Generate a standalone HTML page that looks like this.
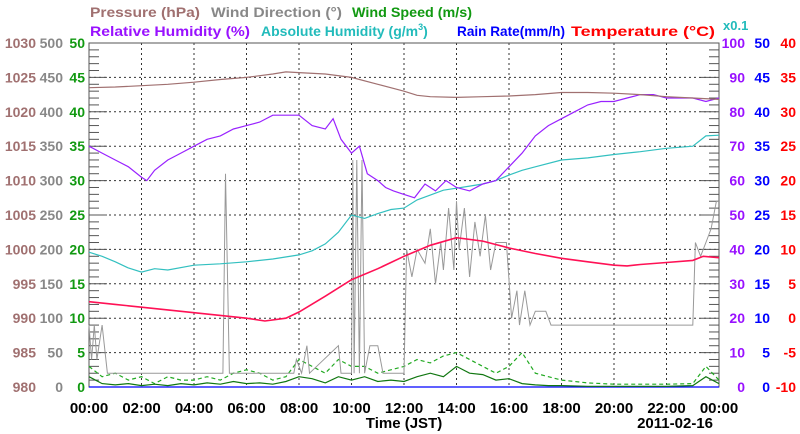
<!DOCTYPE html>
<html><head><meta charset="utf-8"><style>
body{margin:0;background:#fff;}
svg{display:block;font-family:"Liberation Sans",Arial,sans-serif;font-weight:bold;}
</style></head><body>
<svg id="c" width="800" height="434" viewBox="0 0 800 434">
<g id="titles" font-size="14">
<text x="90" y="17" fill="#a07070" textLength="110" lengthAdjust="spacingAndGlyphs">Pressure (hPa)</text>
<text x="211" y="17" fill="#888" textLength="131" lengthAdjust="spacingAndGlyphs">Wind Direction (°)</text>
<text x="352" y="17" fill="#119911" textLength="120" lengthAdjust="spacingAndGlyphs">Wind Speed (m/s)</text>
<text x="90" y="36" fill="#9911ff" textLength="160" lengthAdjust="spacingAndGlyphs">Relative Humidity (%)</text>
<text x="261" y="36" fill="#22bbbb">Absolute Humidity (g/m<tspan font-size="9" dy="-6">3</tspan><tspan dy="6">)</tspan></text>
<text x="457" y="36" fill="#0000ff" textLength="108" lengthAdjust="spacingAndGlyphs">Rain Rate(mm/h)</text>
<text x="571" y="36" fill="#ff0000" textLength="144" lengthAdjust="spacingAndGlyphs">Temperature (°C)</text>
<text x="723" y="30" fill="#22bbbb" font-size="13">x0.1</text>
</g>
<g id="grid"></g><g id="axes"></g><g id="series"></g>
<text x="404" y="428" font-size="15" text-anchor="middle" fill="#000">Time (JST)</text>
<text x="713" y="428" font-size="15" text-anchor="end" fill="#000">2011-02-16</text>
</svg>
<script>
// data (x in hours)
const presT=[0,1,2,3,4,5,6,7,7.5,8,9,10,11,12,12.5,13,14,15,16,17,18,19,20,21,22,23,24];
const presV=[1023.5,1023.6,1023.8,1024.0,1024.3,1024.7,1025.0,1025.5,1025.8,1025.7,1025.5,1025.0,1024.0,1023.0,1022.4,1022.2,1022.1,1022.2,1022.3,1022.5,1022.8,1022.8,1022.7,1022.5,1022.2,1022.0,1021.8];
const tempT=[0,1,2,3,4,5,6,6.7,7.5,8,9,10,11,12,13,14,15,16,17,18,19,20,20.5,21,22,23,23.4,24];
const tempV=[2.4,2.0,1.6,1.2,0.8,0.4,0.0,-0.4,0.0,0.9,3.2,5.6,7.2,9.0,10.6,11.7,11.2,10.2,9.4,8.7,8.2,7.7,7.6,7.8,8.1,8.4,9.0,8.8];
const rhT=[0,0.5,1,1.5,2,2.2,2.5,3,3.5,4,4.5,5,5.5,6,6.5,7,7.5,8,8.5,9,9.3,9.6,10,10.3,10.6,11,11.3,11.6,12,12.4,12.8,13.2,13.6,14,14.5,15,15.5,16,16.5,17,17.5,18,18.5,19,19.5,20,20.5,21,21.5,22,22.5,23,23.5,24];
const rhV=[70,68,66,64,61,60,63,66,68,70,72,73,75,76,77,79,79,79,76,75,78,72,68,70,62,60,58,57,56,55,59,57,60,58,57,59,60,64,68,73,76,78,80,82,83,83,84,85,85,84,84,84,83,84];
const ahT=[0,0.5,1,1.5,2,2.5,3,4,5,6,7,8,8.5,9,9.5,10,10.5,11,11.5,12,12.5,13,13.5,14,14.5,15,15.5,16,16.5,17,18,19,20,21,22,23,23.5,24];
const ahV=[19.6,19,18.2,17.3,16.7,17.2,17.0,17.7,17.9,18.2,18.6,19.2,19.8,20.8,22.5,25.0,24.5,25.2,25.8,26.0,27.2,27.9,28.6,28.9,29.2,29.5,30.0,30.8,31.5,32.0,33.0,33.3,33.8,34.2,34.7,35.0,36.5,36.6];
const wdT=[0,0.1,0.2,0.3,0.5,0.7,5.1,5.2,5.35,7.8,7.9,8.1,8.3,8.4,9.5,9.6,10.0,10.05,10.1,10.2,10.3,10.4,10.5,10.7,11,11.2,12.0,12.1,12.3,12.5,12.8,13.0,13.2,13.4,13.5,13.7,13.9,14.0,14.1,14.3,14.5,14.7,14.9,15.1,15.3,15.5,15.9,16.1,16.3,16.4,16.6,16.8,17.0,17.4,17.6,18,23.0,23.1,23.3,23.5,23.7,23.9,24];
const wdV=[90,40,90,40,90,20,20,310,20,20,40,20,60,20,60,20,20,330,20,330,20,330,20,60,60,20,20,200,160,200,180,230,150,210,170,260,170,270,200,260,160,240,190,250,170,210,210,100,140,90,140,90,110,110,90,90,90,210,190,210,230,270,270];
const wsT=[0,0.5,1,1.5,2,2.5,3,3.5,4,4.5,5,5.5,6,6.5,7,7.5,8,8.5,9,9.5,10,10.5,11,11.5,12,12.5,13,13.5,14,14.5,15,15.5,16,16.5,17,17.5,18,19,20,21,22,23,23.5,24];
const wsV=[1.5,0.5,0.3,0.5,0.2,0.4,0.2,0.5,0.3,0.6,0.4,0.8,0.5,0.6,0.4,0.8,1.5,1.2,0.6,1.5,1,1.5,0.8,1,0.8,1.5,2,1.5,3,2,1.8,1,1.2,0.5,0.3,0.2,0.2,0.1,0.1,0.1,0.1,0.2,1.5,0.5];
const wgV=[3,1.5,2,1,1.5,0.5,1.5,1,1,1.5,1,2,2.5,2,1,1.5,4,3,2,4,3,3,2,2.5,3,4,3.5,4.5,5,4,3,2,3,5,2,1.5,1,0.6,0.4,0.4,0.4,0.5,3,1];
const xTicks=["00:00","02:00","04:00","06:00","08:00","10:00","12:00","14:00","16:00","18:00","20:00","22:00","00:00"];
const presTicks=[980,985,990,995,1000,1005,1010,1015,1020,1025,1030];
const wdTicks=[0,50,100,150,200,250,300,350,400,450,500];
const wsTicks=[0,5,10,15,20,25,30,35,40,45,50];
const rhTicks=[0,10,20,30,40,50,60,70,80,90,100];
const rainTicks=[0,5,10,15,20,25,30,35,40,45,50];
const tempTicks=[-10,-5,0,5,10,15,20,25,30,35,40];

const L=89,R=719,T=43,B=387,NS="http://www.w3.org/2000/svg";
const X=h=>L+(R-L)*h/24;
const Y=(v,lo,hi)=>B-(B-T)*(v-lo)/(hi-lo);
function mk(tag,at,par){const e=document.createElementNS(NS,tag);for(const k in at)e.setAttribute(k,at[k]);document.getElementById(par).appendChild(e);return e;}
for(let i=1;i<12;i++){const e=mk('line',{x1:X(i*2),x2:X(i*2),y1:T,y2:B,stroke:'#333','stroke-width':1,'stroke-dasharray':'2,3'},'grid');

}
for(let i=1;i<10;i++){const y=Y(i*5,0,50);const e=mk('line',{x1:L,x2:R,y1:y,y2:y,stroke:'#333','stroke-width':1,'stroke-dasharray':'2,3'},'grid');

}
const fr=mk('rect',{x:L,y:T,width:R-L,height:B-T,fill:'none',stroke:'#555','stroke-width':1},'axes');


for(let i=0;i<=50;i++){const y=Y(i,0,50);const len=i%5==0?18:10;
mk('line',{x1:L,x2:L+len,y1:y,y2:y,stroke:'#555'},'axes');
mk('line',{x1:R-len,x2:R,y1:y,y2:y,stroke:'#555'},'axes');}
function lab(txt,x,y,col,anchor,name,fs){const e=mk('text',{x:x,y:y,fill:col,'font-size':fs||14,'text-anchor':anchor},'axes');e.textContent=txt;

}
for(let i=0;i<11;i++){const y=Y(i*5,0,50)+5;
lab(presTicks[i],36,y,'#a07070','end','pressure-tick');
lab(wdTicks[i],63,y,'#888','end','wind-direction-tick');
lab(wsTicks[i],85,y,'#119911','end','wind-speed-tick');
lab(rhTicks[i],745,y,'#9911ff','end','humidity-tick');
lab(rainTicks[i],770,y,'#0000ff','end','rain-tick');
lab(tempTicks[i],796,y,'#ff0000','end','temperature-tick');}
xTicks.forEach((t,i)=>lab(t,X(i*2),413,'#000','middle','x-tick',15));
function line(ts,vs,lo,hi,col,name,dash,w){const d=ts.map((t,i)=>(i?'L':'M')+X(t).toFixed(1)+','+Y(vs[i],lo,hi).toFixed(1)).join('');
const e=mk('path',{d:d,fill:'none',stroke:col,'stroke-width':w||1.2},'series');if(dash)e.setAttribute('stroke-dasharray',dash);

}
const rainV=wsT.map(()=>0);
line(wsT,rainV,0,50,'#0000ff','rain-rate-line');
line(wsT,wgV,0,50,'#22aa22','wind-gust-line','4,3');
line(wsT,wsV,0,50,'#117711','wind-speed-line');
line(wdT,wdV,0,500,'#999','wind-direction-line',null,1);
line(ahT,ahV,0,50,'#33c0c0','absolute-humidity-line');
line(rhT,rhV,0,100,'#9922ff','relative-humidity-line');
line(presT,presV,980,1030,'#a07070','pressure-line');
line(tempT,tempV,-10,40,'#ff1155','temperature-line',null,1.6);
</script>
</body></html>
